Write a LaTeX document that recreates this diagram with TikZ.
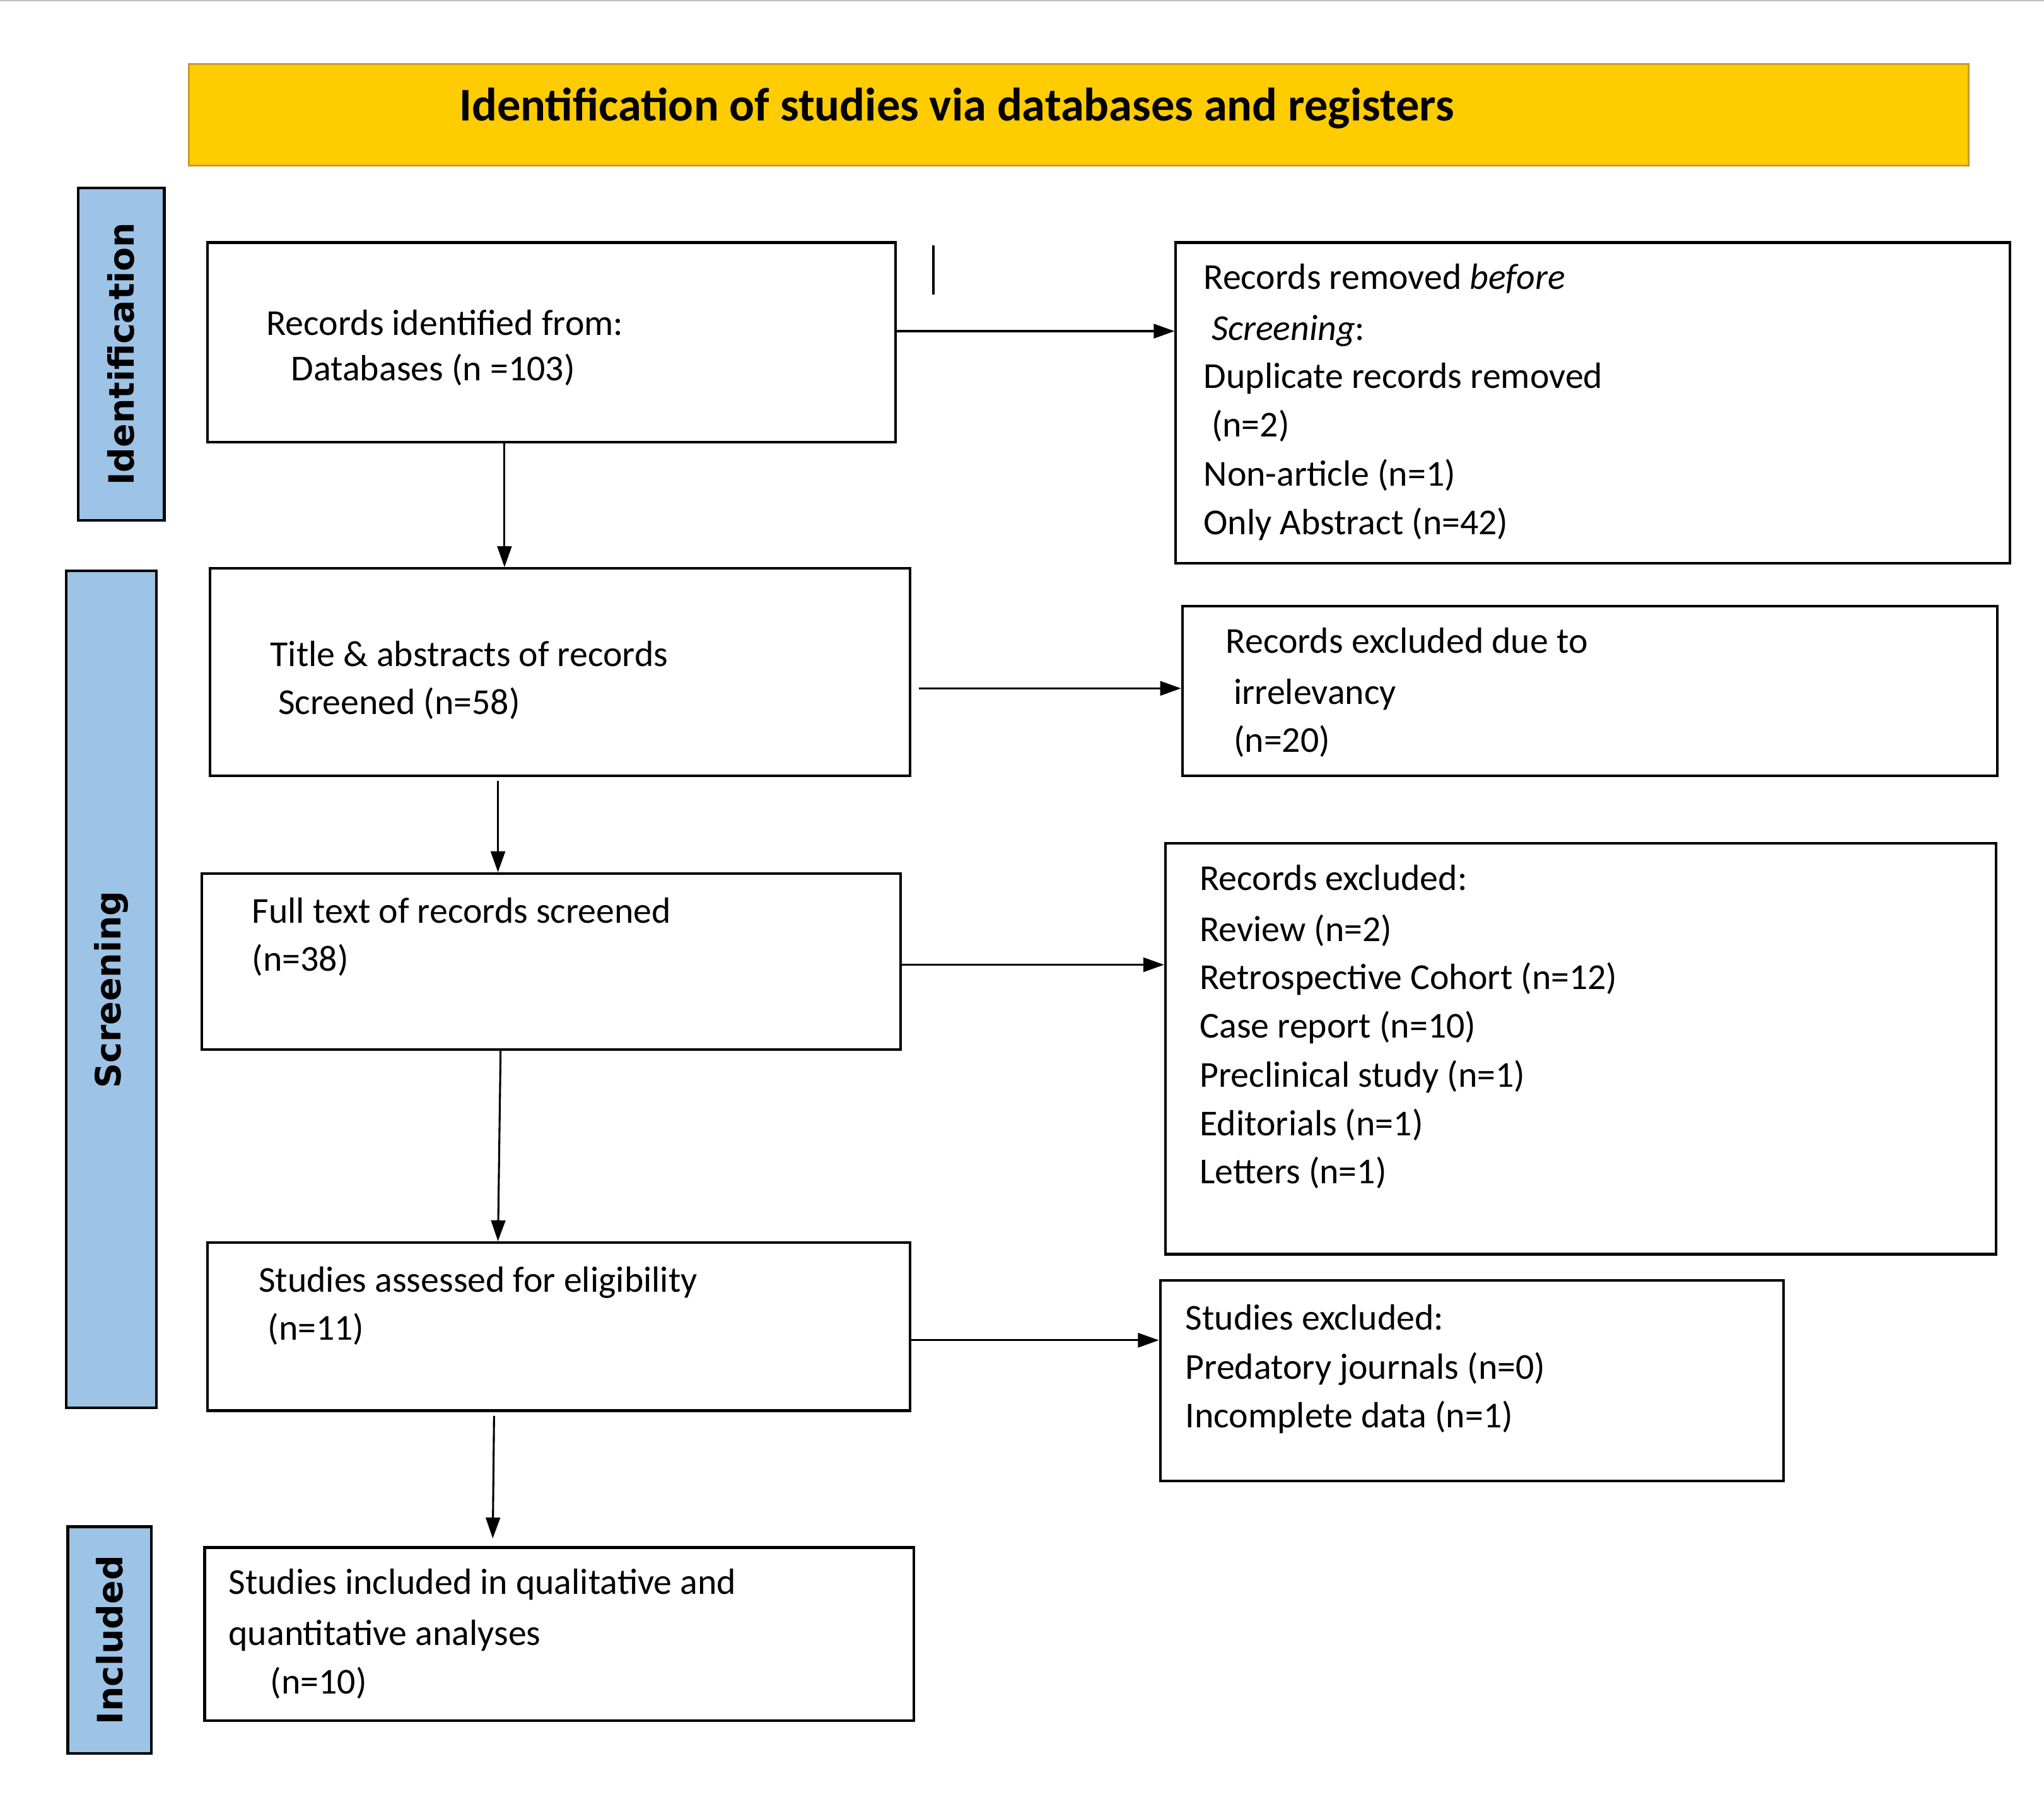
\documentclass[tikz,border=0pt]{standalone}
\usepackage{fontspec}
\setmainfont{Carlito}
\newfontfamily\sidefont{DejaVu Sans}
\usetikzlibrary{arrows.meta,fit}
\definecolor{sideblue}{HTML}{9DC3E6}
\definecolor{gold}{HTML}{FFCC00}
\definecolor{goldedge}{HTML}{C99A2E}
\begin{document}
\begin{tikzpicture}[x=0.5pt,y=-0.5pt,
  box/.style={draw=black,line width=1pt,inner sep=0pt,fill=white},
  sidebox/.style={draw=black,line width=1pt,inner sep=0pt,fill=sideblue},
  sidetxt/.style={font=\sidefont\bfseries\fontsize{13.4}{16}\selectfont,rotate=90},
  txt/.style={anchor=base west,inner sep=0pt,font=\fontsize{14}{16.8}\selectfont},
  arr/.style={-{Triangle[length=8pt,width=5.5pt]},line width=0.75pt}]
\useasboundingbox (0,0) rectangle (1568,1391.4);
\draw[black!25,line width=0.6pt] (0,0.6) -- (1568,0.6);
% banner
\node[draw=goldedge,fill=gold,line width=0.8pt,inner sep=0pt,fit={(145,49) (1510,127)}] (banner) {};
\node[anchor=base west,inner sep=0pt,font=\bfseries\fontsize{18}{21}\selectfont] (title) at (352,92.5) {Identification of studies via databases and registers};
% side labels
\node[sidebox,fit={(60,144) (126,399)}] (sid) {};
\node[sidetxt] (sidt) at (sid.center) {Identification};
\node[sidebox,fit={(51,438) (120,1080)}] (ssc) {};
\node[sidetxt] (ssct) at (ssc.center) {Screening};
\node[sidebox,fit={(52,1171) (116,1345)}] (sin) {};
\node[sidetxt] (sint) at (sin.center) {Included};
% boxes
\node[box,fit={(159,186) (687,339)}] (b1) {};
\node[box,fit={(902,186) (1542,432)}] (b2) {};
\node[box,fit={(161,436) (698,595)}] (b3) {};
\node[box,fit={(907,465) (1532,595)}] (b4) {};
\node[box,fit={(155,670) (691,805)}] (b5) {};
\node[box,fit={(894,647) (1531,962)}] (b6) {};
\node[box,fit={(159,953) (698,1082)}] (b7) {};
\node[box,fit={(890,982) (1368,1136)}] (b8) {};
\node[box,fit={(157,1187) (701,1320)}] (b9) {};
% texts
\node[txt] (t1a) at (204,257) {Records identified from:};
\node[txt] (t1b) at (223,292) {Databases (n =103)};
\node[txt] (t2a) at (923,222) {Records removed \textit{before}};
\node[txt] (t2b) at (929,261) {\textit{Screening}:};
\node[txt] (t2c) at (923,298) {Duplicate records removed};
\node[txt] (t2d) at (929,335) {(n=2)};
\node[txt] (t2e) at (923,373) {Non-article (n=1)};
\node[txt] (t2f) at (923,410) {Only Abstract (n=42)};
\node[txt] (t3a) at (207,511) {Title \& abstracts of records};
\node[txt] (t3b) at (213,548) {Screened (n=58)};
\node[txt] (t4a) at (940,501) {Records excluded due to};
\node[txt] (t4b) at (946,540) {irrelevancy};
\node[txt] (t4c) at (946,577) {(n=20)};
\node[txt] (t5a) at (193,708) {Full text of records screened};
\node[txt] (t5b) at (193,745) {(n=38)};
\node[txt] (t6a) at (920,683) {Records excluded:};
\node[txt] (t6b) at (920,722) {Review (n=2)};
\node[txt] (t6c) at (920,759) {Retrospective Cohort (n=12)};
\node[txt] (t6d) at (920,796) {Case report (n=10)};
\node[txt] (t6e) at (920,834) {Preclinical study (n=1)};
\node[txt] (t6f) at (920,871) {Editorials (n=1)};
\node[txt] (t6g) at (920,908) {Letters (n=1)};
\node[txt] (t7a) at (198,991) {Studies assessed for eligibility};
\node[txt] (t7b) at (205,1028) {(n=11)};
\node[txt] (t8a) at (909,1020) {Studies excluded:};
\node[txt] (t8b) at (909,1058) {Predatory journals (n=0)};
\node[txt] (t8c) at (909,1095) {Incomplete data (n=1)};
\node[txt] (t9a) at (175,1223) {Studies included in qualitative and};
\node[txt] (t9b) at (175,1262) {quantitative analyses};
\node[txt] (t9c) at (207,1299) {(n=10)};
% stray mark
\coordinate (m1) at (716,188);
\coordinate (m2) at (716,226);
\draw[line width=0.75pt] (m1) -- (m2);
% connectors
\coordinate (s3) at (705,528);
\coordinate (s3d) at (382,599);
\coordinate (s7d) at (379,1086);
\coordinate (e9) at (378,1180);
\draw[arr] (b1.east |- 0,254) -- (b2.west |- 0,254);
\draw[arr] (b1.south -| 387,0) -- (b3.north -| 387,0);
\draw[arr] (s3) -- (b4.west |- s3);
\draw[arr] (s3d) -- (b5.north -| s3d);
\draw[arr] (b5.east |- 0,740) -- (b6.west |- 0,740);
\draw[arr] (b5.south -| 384,0) -- (b7.north -| 382,0);
\draw[arr] (b7.east |- 0,1028) -- (b8.west |- 0,1028);
\draw[arr] (s7d) -- (e9);
\end{tikzpicture}
\end{document}
